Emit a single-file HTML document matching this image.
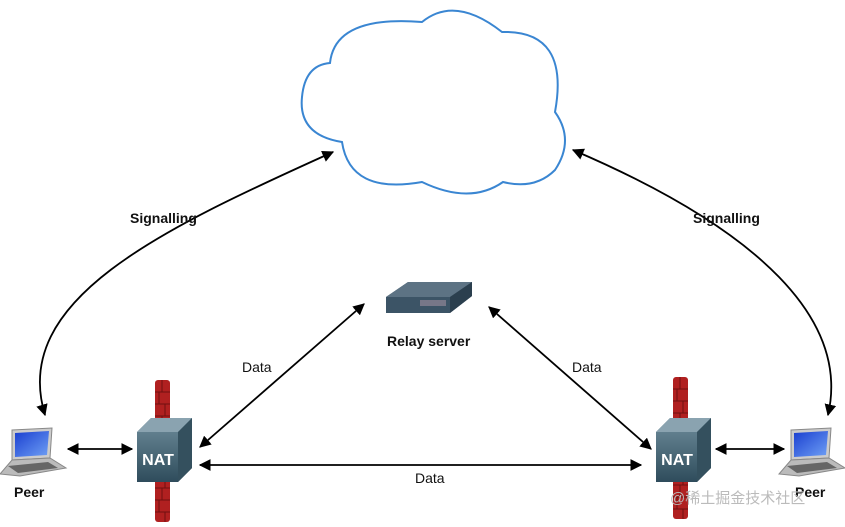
<!DOCTYPE html>
<html><head><meta charset="utf-8"><style>
html,body{margin:0;padding:0;background:#fff;}
svg{display:block}
text{font-family:"Liberation Sans",sans-serif;}
</style></head><body>
<svg width="845" height="527" viewBox="0 0 845 527" xmlns="http://www.w3.org/2000/svg">
<defs>
<marker id="a" viewBox="0 0 10 10" refX="9" refY="5" markerWidth="6.5" markerHeight="6.5" orient="auto-start-reverse"><path d="M0,0 L10,5 L0,10 z" fill="#000"/></marker>
<linearGradient id="scr" x1="0" y1="0" x2="1" y2="1"><stop offset="0" stop-color="#1a3fd0"/><stop offset="1" stop-color="#6fa0f5"/></linearGradient>
<linearGradient id="nat" x1="0" y1="0" x2="0" y2="1"><stop offset="0" stop-color="#6f8d9b"/><stop offset="1" stop-color="#2f4c5c"/></linearGradient>
<g id="fw"><rect x="0" y="0" width="15" height="142" rx="3" fill="#b02020"/>
<path d="M0,12H15M0,24H15M0,36H15M0,48H15M0,60H15M0,72H15M0,84H15M0,96H15M0,108H15M0,120H15M0,132H15M7,0V12M4,12V24M10,24V36M7,36V48M4,48V60M10,96V108M7,108V120M4,120V132M10,132V142" stroke="#701010" stroke-width="1" fill="none"/></g>
<g id="nb"><path d="M0,14 L14,0 L55,0 L55,50 L41,64 L0,64 Z" fill="url(#nat)"/><path d="M0,14 L14,0 L55,0 L41,14 Z" fill="#8aa3b0"/><path d="M41,14 L55,0 L55,50 L41,64 Z" fill="#34505e"/><text x="21" y="47" font-size="16" font-weight="bold" fill="#fff" text-anchor="middle">NAT</text></g>
<g id="lp"><path d="M12,2 L52,0 L50,30 L12,32 Z" fill="#ccc" stroke="#888"/><path d="M15,5 L49,3 L47,27 L15,29 Z" fill="url(#scr)"/><path d="M12,32 L50,30 L66,40 L20,48 L0,46 Z" fill="#bbb" stroke="#888"/><path d="M8,38 L48,34 L58,40 L18,45 Z" fill="#666"/></g>
</defs>
<path d="M342,142 Q298,135 302,97 Q305,65 330,63 Q335,15 422,22 Q455,-5 502,32 Q570,30 555,112 Q575,140 555,170 Q535,190 503,182 Q470,205 422,182 Q350,195 342,142 Z" fill="#fff" stroke="#3a86d2" stroke-width="2"/>
<g stroke="#000" stroke-width="1.8" fill="none">
<path d="M333,152 C160,230 10,300 45,415" marker-start="url(#a)" marker-end="url(#a)"/>
<path d="M573,150 C760,230 850,320 828,415" marker-start="url(#a)" marker-end="url(#a)"/>
<path d="M68,449 L132,449" marker-start="url(#a)" marker-end="url(#a)"/>
<path d="M716,449 L784,449" marker-start="url(#a)" marker-end="url(#a)"/>
<path d="M200,465 L641,465" marker-start="url(#a)" marker-end="url(#a)"/>
<path d="M200,447 L364,304" marker-start="url(#a)" marker-end="url(#a)"/>
<path d="M489,307 L651,449" marker-start="url(#a)" marker-end="url(#a)"/>
</g>
<use href="#fw" x="155" y="380"/>
<use href="#nb" x="137" y="418"/>
<use href="#fw" x="673" y="377"/>
<use href="#nb" x="656" y="418"/>
<use href="#lp" x="0" y="428"/>
<use href="#lp" x="779" y="428"/>
<path d="M386,297 L408,282 L472,282 L472,296 L450,313 L386,313 Z" fill="#3c5466"/>
<path d="M386,297 L408,282 L472,282 L450,297 Z" fill="#5d7384"/>
<path d="M450,297 L472,282 L472,296 L450,313 Z" fill="#2b3f4e"/>
<rect x="420" y="300" width="26" height="6" fill="#778"/>
<g font-size="14" font-weight="bold" fill="#111">
<text x="130" y="223">Signalling</text>
<text x="693" y="223">Signalling</text>
<text x="387" y="346">Relay server</text>
<text x="14" y="497">Peer</text>
<text x="795" y="497">Peer</text>
</g>
<g font-size="14" fill="#111">
<text x="242" y="372">Data</text>
<text x="572" y="372">Data</text>
<text x="415" y="483">Data</text>
</g>
<text x="670" y="503" font-size="15" fill="#bbb" font-family="'Liberation Sans','Noto Sans CJK SC',sans-serif">@稀土掘金技术社区</text>
</svg>
</body></html>
